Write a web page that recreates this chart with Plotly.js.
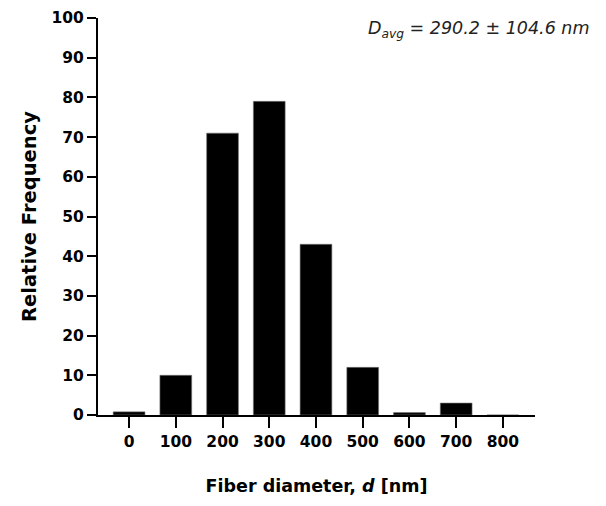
<!DOCTYPE html>
<html>
<head>
<meta charset="utf-8">
<script src="https://cdn.plot.ly/plotly-3.0.1.min.js"></script>
<style>html,body{margin:0;padding:0;background:#fff;}#chart{width:606px;height:506px;}</style>
</head>
<body>
<div id="chart"></div>
<script>
const diameters = [0, 100, 200, 300, 400, 500, 600, 700, 800];
const frequency = [0.8, 10, 71, 79, 43, 12, 0.6, 3, 0];
const tickLabels = ['0', '100', '200', '300', '400', '500', '600', '700', '800'];
const yTicks = [0, 10, 20, 30, 40, 50, 60, 70, 80, 90, 100];

const font = 'DejaVu Sans, Arial, sans-serif';

Plotly.newPlot('chart', [{
  type: 'bar',
  x: diameters,
  y: frequency,
  width: 68,
  marker: {color: '#000', line: {color: '#777', width: 0.6}},
  hoverinfo: 'none'
}], {
  width: 606, height: 506,
  margin: {l: 98, r: 71, t: 18, b: 91},
  paper_bgcolor: '#fff', plot_bgcolor: '#fff',
  showlegend: false,
  font: {family: font, color: '#000'},
  xaxis: {
    range: [-66.5, 868.7],
    tickvals: diameters, ticktext: tickLabels,
    ticks: 'outside', ticklen: 11, tickwidth: 2, tickcolor: '#000',
    showline: true, linewidth: 2, linecolor: '#000',
    showgrid: false, zeroline: false,
    tickfont: {family: font, size: 15.5, color: '#000', weight: 'bold'},
    title: {text: '<b>Fiber diameter, <i>d</i> [nm]</b>', font: {family: font, size: 17.5, color: '#000'}, standoff: 30}
  },
  yaxis: {
    range: [0, 100],
    tickvals: yTicks,
    ticks: 'outside', ticklen: 9, tickwidth: 2, tickcolor: '#000',
    showline: true, linewidth: 2, linecolor: '#000',
    showgrid: false, zeroline: false,
    tickfont: {family: font, size: 15.5, color: '#000', weight: 'bold'},
    title: {text: '<b>Relative Frequency</b>', font: {family: font, size: 19.5, color: '#000'}, standoff: 10}
  },
  annotations: [{
    xref: 'paper', yref: 'paper', x: 1.13, y: 0.97, xanchor: 'right', yanchor: 'middle',
    showarrow: false,
    text: '<i>D<sub>avg</sub> = 290.2 ± 104.6 nm</i>',
    font: {family: font, size: 17.5, color: '#222'}
  }]
}, {displayModeBar: false, staticPlot: true});
</script>
</body>
</html>
